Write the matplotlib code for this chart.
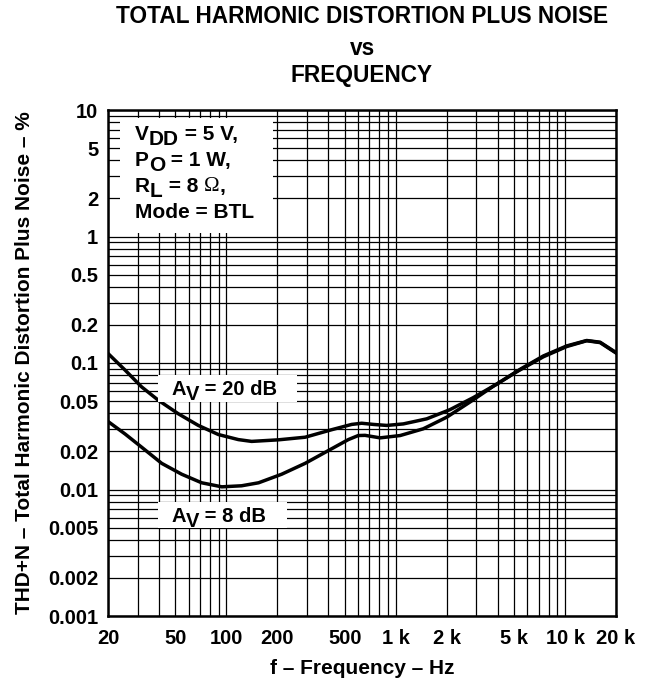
import matplotlib
matplotlib.use("Agg")
import matplotlib.pyplot as plt
from matplotlib.patches import Rectangle
from matplotlib.ticker import FixedLocator, LogLocator, NullFormatter

plt.rcParams['font.family'] = ['Liberation Sans', 'DejaVu Sans']
plt.rcParams['font.weight'] = 'bold'

# Data
freq_20db = [20, 25.2, 31.6, 39.7, 52, 68.3, 89.7, 117.8, 141, 203, 292, 419, 550, 630, 738, 885,
             1110, 1526, 2094, 2875, 3953, 5434, 7450, 10240, 13430, 16110, 20000]
thd_20db = [0.119, 0.088, 0.0647, 0.0507, 0.0397, 0.0321, 0.0272, 0.0248, 0.0240, 0.0247, 0.0259,
            0.0297, 0.0327, 0.0334, 0.0327, 0.0321, 0.0330, 0.0362, 0.0428, 0.0533, 0.0681, 0.0892,
            0.1137, 0.1365, 0.1506, 0.146, 0.121]

freq_8db = [20, 25.2, 31.6, 41.5, 54.5, 71.5, 94, 123, 155, 212, 292, 400, 525, 601, 659, 809,
            1062, 1456, 2003, 2750, 3777, 5190, 7450, 10240, 13430, 16110, 20000]
thd_8db = [0.0345, 0.0275, 0.0216, 0.0161, 0.0132, 0.0113, 0.0105, 0.0107, 0.0113, 0.0132, 0.0161,
           0.0203, 0.0248, 0.0267, 0.0268, 0.0256, 0.0267, 0.0302, 0.0373, 0.0492, 0.0656, 0.0853,
           0.112, 0.135, 0.150, 0.145, 0.120]

x_ticks = [20, 50, 100, 200, 500, 1000, 2000, 5000, 10000, 20000]
x_labels = ['20', '50', '100', '200', '500', '1 k', '2 k', '5 k', '10 k', '20 k']
y_ticks = [0.001, 0.002, 0.005, 0.01, 0.02, 0.05, 0.1, 0.2, 0.5, 1, 2, 5, 10]
y_labels = ['0.001', '0.002', '0.005', '0.01', '0.02', '0.05', '0.1', '0.2', '0.5', '1', '2', '5', '10']

W, H = 652, 683
fig = plt.figure(figsize=(W / 100, H / 100), dpi=100)
ax = fig.add_axes([108 / W, 1 - 616 / H, 508 / W, 506 / H])

ax.set_xscale('log')
ax.set_yscale('log')
ax.set_xlim(20, 20000)
ax.set_ylim(0.001, 10)

ax.xaxis.set_major_locator(FixedLocator(x_ticks))
ax.set_xticklabels(x_labels)
ax.xaxis.set_minor_locator(LogLocator(base=10, subs=range(1, 10), numticks=100))
ax.xaxis.set_minor_formatter(NullFormatter())
ax.yaxis.set_major_locator(FixedLocator(y_ticks))
ax.set_yticklabels(y_labels)
ax.yaxis.set_minor_locator(LogLocator(base=10, subs=range(1, 10), numticks=100))
ax.yaxis.set_minor_formatter(NullFormatter())

ax.grid(True, which='both', color='black', linewidth=0.9)
ax.set_axisbelow(True)
ax.tick_params(axis='x', which='both', length=0, pad=9)
ax.tick_params(axis='y', which='both', length=0, pad=7)
for lab in ax.get_xticklabels() + ax.get_yticklabels():
    lab.set_fontweight('bold')
    lab.set_fontsize(14.5)
for sp in ax.spines.values():
    sp.set_linewidth(1.8)
    sp.set_zorder(7)

ax.plot(freq_20db, thd_20db, color='black', linewidth=2.5, zorder=3, solid_joinstyle='round')
ax.plot(freq_8db, thd_8db, color='black', linewidth=2.5, zorder=3, solid_joinstyle='round')


def white_box(x0, y0, x1, y1):
    r = Rectangle((x0 / W, 1 - y1 / H), (x1 - x0) / W, (y1 - y0) / H,
                  transform=fig.transFigure, facecolor='white', edgecolor='none',
                  zorder=4, clip_on=False)
    ax.add_patch(r)


def rich(parts, x_px, y_px, size):
    """parts: list of (text, drop_px, family). Baseline placed at (x_px, y_px) figure pixels from top."""
    prev = None
    prev_drop = 0
    for text, drop, fam in parts:
        if prev is None:
            prev = ax.annotate(text, xy=(x_px, H - y_px - drop), xycoords='figure pixels',
                               ha='left', va='baseline', fontsize=size, fontweight='bold',
                               family=fam, zorder=6, annotation_clip=False)
        else:
            prev = ax.annotate(text, xy=(1, 0), xycoords=prev,
                               xytext=(0, -(drop - prev_drop)), textcoords='offset pixels',
                               ha='left', va='bottom', fontsize=size,
                               fontweight='normal' if 'Serif' in fam else 'bold',
                               family=fam, zorder=6, annotation_clip=False)
        prev_drop = drop


sans = 'Liberation Sans'
serif = 'Liberation Serif'

white_box(120, 118, 273, 233)
rich([('V', 0, sans), ('DD', 5, sans), (' = 5 V,', 0, sans)], 135, 140, 15)
rich([('P', 0, sans), ('O', 5, sans), (' = 1 W,', 0, sans)], 135, 166, 15)
rich([('R', 0, sans), ('L', 5, sans), (' = 8 ', 0, sans), ('Ω', 0, serif), (',', 0, sans)], 135, 192, 15)
rich([('Mode = BTL', 0, sans)], 135, 218, 15)

white_box(158, 375, 297, 402)
rich([('A', 0, sans), ('V', 5, sans), (' = 20 dB', 0, sans)], 171, 395, 14.5)
white_box(158, 502, 287, 528)
rich([('A', 0, sans), ('V', 5, sans), (' = 8 dB', 0, sans)], 171, 522, 14.5)

fig.text(362 / W, 1 - 23 / H, 'TOTAL HARMONIC DISTORTION PLUS NOISE', ha='center', va='baseline',
         fontsize=16.3, fontweight='bold')
fig.text(362 / W, 1 - 55 / H, 'vs', ha='center', va='baseline', fontsize=16.3, fontweight='bold')
fig.text(362 / W, 1 - 82 / H, 'FREQUENCY', ha='center', va='baseline', fontsize=16.3, fontweight='bold')

fig.text(362 / W, 1 - 674 / H, 'f – Frequency – Hz', ha='center', va='baseline',
         fontsize=15, fontweight='bold')
fig.text(25 / W, 1 - 363 / H, 'THD+N – Total Harmonic Distortion Plus Noise – %', ha='center',
         va='center', rotation=90, fontsize=15, fontweight='bold')

fig.savefig('out.png', dpi=100)
